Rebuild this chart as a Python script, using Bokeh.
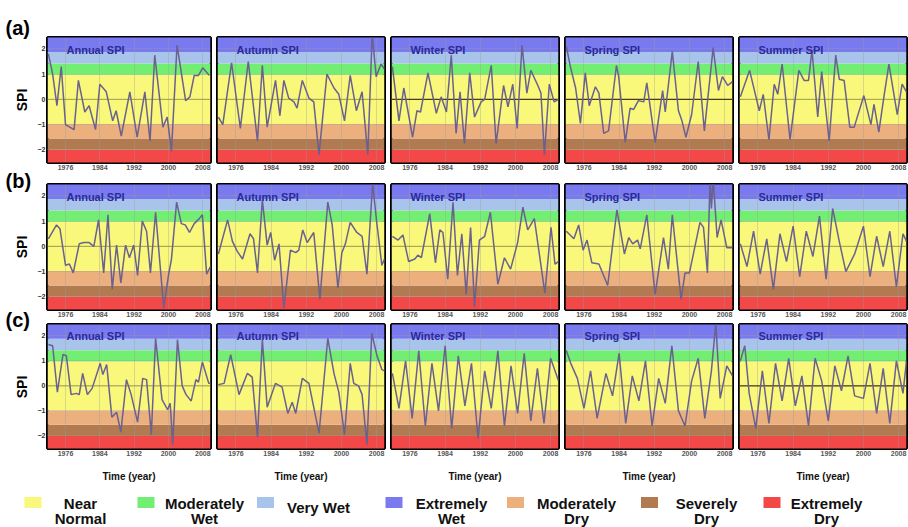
import math
from bokeh.plotting import figure
from bokeh.layouts import row, column
from bokeh.models import BoxAnnotation, Label, Span, FixedTicker
from bokeh.embed import file_html
from bokeh.resources import INLINE

# ---------------- data ----------------
seasons = ["Annual SPI", "Autumn SPI", "Winter SPI", "Spring SPI", "Summer SPI"]
row_tags = ["(a)", "(b)", "(c)"]
year_ticks = [1976, 1984, 1992, 2000, 2008]
spi_ticks = [-2, -1, 0, 1, 2]

band_names = ["Extremely Dry", "Severely Dry", "Moderately Dry", "Near Normal",
              "Moderately Wet", "Very Wet", "Extremely Wet"]
band_bottom = [-5.0, -2.0, -1.55, -0.98, 0.97, 1.42, 1.88]
band_top = [-2.0, -1.55, -0.98, 0.97, 1.42, 1.88, 5.0]
band_colors = ["#f24848", "#b27a50", "#ebb07e", "#f9f87a", "#72ee72", "#a9c4ea", "#7a7af0"]

legend_order = ["Near Normal", "Moderately Wet", "Very Wet", "Extremely Wet",
                "Moderately Dry", "Severely Dry", "Extremely Dry"]
legend_lines = [["Near", "Normal"], ["Moderately", "Wet"], ["Very Wet"], ["Extremely", "Wet"],
                ["Moderately", "Dry"], ["Severely", "Dry"], ["Extremely", "Dry"]]

# (year, SPI)
a_annual = [(1972.0, 1.8), (1973.0, 1.0), (1974.0, -0.25), (1975.0, 1.3), (1976.0, -1.0), (1978.0, -1.2),
            (1979.0, 0.75), (1980.5, -0.5), (1981.5, -0.25), (1983.0, -1.2), (1984.0, 0.6), (1985.5, 0.3),
            (1987.0, -0.85), (1987.8, -0.45), (1989.0, -1.45), (1991.0, 0.3), (1992.7, -1.5), (1994.5, 0.3),
            (1995.7, -1.65), (1996.8, 1.75), (1998.7, -1.1), (1999.7, -0.7), (2000.7, -2.05), (2002.0, 2.15),
            (2004.0, -0.05), (2005.0, 0.1), (2006.0, 0.95), (2007.0, 0.95), (2008.0, 1.25), (2009.5, 0.95)]
a_autumn = [(1972.0, -0.7), (1973.0, -1.0), (1975.0, 1.45), (1977.0, -1.15), (1978.8, 1.5), (1980.9, -1.65),
            (1982.0, 1.35), (1983.1, -1.1), (1985.0, 0.75), (1986.0, -0.65), (1986.9, 0.75), (1988.0, 0.05),
            (1989.2, -0.1), (1989.9, -0.35), (1991.1, 0.75), (1992.6, 0.05), (1993.7, -0.1), (1994.9, -2.2),
            (1996.7, 1.0), (1998.3, 0.45), (1999.4, 0.2), (2000.7, -0.85), (2002.0, 0.95), (2003.4, -0.45),
            (2004.7, 0.3), (2006.0, -2.2), (2007.0, 2.6), (2007.9, 0.9), (2009.0, 1.4), (2009.8, 1.2)]
a_winter = [(1972.0, 1.3), (1973.5, -0.85), (1974.6, 0.45), (1976.6, -1.5), (1977.6, -0.45), (1978.4, -0.5),
            (1980.1, 1.05), (1982.0, -0.55), (1983.1, 0.1), (1984.3, -0.5), (1985.4, 1.75), (1986.5, -1.35),
            (1987.4, 0.3), (1988.4, -1.75), (1989.6, 1.05), (1990.7, -0.7), (1992.2, -0.1), (1993.0, 0.0),
            (1994.5, 1.35), (1995.6, -1.75), (1997.3, 0.55), (1998.3, -0.3), (1999.4, 0.6), (2000.4, -1.15),
            (2001.5, 2.15), (2002.6, 0.25), (2003.5, 1.15), (2005.1, 0.55), (2005.8, 0.25), (2006.6, -2.2),
            (2007.7, 0.6), (2008.8, -0.1), (2009.8, 0.0)]
a_spring = [(1972.0, 2.1), (1972.9, 1.3), (1974.1, 0.45), (1975.2, -0.95), (1976.3, 1.05), (1977.2, -0.25),
            (1978.6, 0.5), (1979.4, 0.25), (1980.5, -1.35), (1981.6, -1.25), (1983.4, 1.35), (1983.9, 0.9),
            (1985.4, -1.7), (1986.5, -0.35), (1987.3, -0.4), (1988.4, -0.05), (1989.6, -0.1), (1990.3, 0.65),
            (1992.2, -1.7), (1993.9, 0.35), (1994.5, -0.5), (1996.1, 1.9), (1997.5, -0.45), (1998.3, -0.85),
            (1999.2, -1.5), (2000.5, -0.6), (2002.0, 1.5), (2003.4, -1.25), (2005.4, 2.05), (2006.6, 0.35),
            (2007.5, 0.9), (2008.7, 0.55), (2009.8, 0.7)]
a_summer = [(1972.0, 0.1), (1974.1, 1.15), (1976.3, -0.45), (1977.2, 0.2), (1978.5, -1.6), (1979.7, 0.6),
            (1980.5, 0.2), (1981.5, 1.4), (1983.3, -1.6), (1985.3, 1.15), (1986.5, 0.75), (1987.5, 0.75),
            (1988.3, 1.95), (1989.6, -0.7), (1990.5, 1.1), (1992.2, -1.65), (1993.7, 1.75), (1994.5, 0.8),
            (1995.6, 0.75), (1996.9, -1.1), (1997.9, -1.1), (2000.1, 0.15), (2001.7, -1.0), (2002.4, -0.2),
            (2003.5, -1.3), (2004.7, 0.15), (2005.8, 1.4), (2007.7, -0.6), (2008.8, 0.6), (2009.8, 0.3)]

b_annual = [(1972.0, 0.3), (1973.9, 0.85), (1974.7, 0.7), (1976.0, -0.75), (1976.9, -0.7), (1977.8, -1.05),
            (1979.2, 0.1), (1980.3, 0.15), (1981.5, 0.15), (1982.6, 0.0), (1983.7, 1.05), (1984.9, -1.05),
            (1985.9, 1.25), (1986.9, -1.7), (1987.9, 0.05), (1988.9, -1.45), (1990.0, 0.05), (1990.9, -0.45),
            (1991.9, 0.05), (1992.8, -1.15), (1993.9, 1.0), (1994.9, 0.6), (1995.8, -1.05), (1997.0, 1.35),
            (1998.9, -2.45), (2000.0, -1.15), (2000.7, -0.5), (2001.9, 1.75), (2003.0, 0.9), (2003.9, 0.85),
            (2004.9, 0.55), (2006.0, 0.9), (2007.2, 1.1), (2007.9, 1.25), (2008.9, -1.1), (2009.8, -0.8)]
b_autumn = [(1972.0, -0.3), (1974.1, 1.05), (1975.2, 0.2), (1976.3, -0.2), (1977.5, -0.5), (1979.2, 0.5),
            (1980.0, 0.3), (1980.9, -1.05), (1982.0, 1.85), (1983.1, 0.05), (1983.9, 0.55), (1984.8, -0.55),
            (1985.8, 0.1), (1986.9, -2.45), (1988.4, -0.15), (1989.6, -0.25), (1990.3, -0.15), (1991.2, 0.65),
            (1992.2, 0.15), (1993.7, 0.55), (1995.1, -2.1), (1996.9, 1.75), (1997.9, 0.85), (1999.2, -1.65),
            (2000.1, -0.25), (2000.9, 0.1), (2002.0, 0.95), (2003.5, 0.55), (2004.7, 0.4), (2005.8, -1.1),
            (2007.1, 2.5), (2008.0, 1.0), (2009.2, -0.75), (2009.8, -0.5)]
b_winter = [(1972.0, 0.4), (1973.3, 0.25), (1974.4, 0.45), (1975.7, -0.6), (1977.1, -0.5), (1977.8, -0.35),
            (1978.6, -0.45), (1980.5, 1.3), (1981.8, -0.65), (1982.8, 0.65), (1983.5, 0.55), (1984.6, -1.3),
            (1985.8, 1.75), (1986.8, -1.15), (1987.8, 0.5), (1988.8, -1.9), (1989.8, 0.75), (1990.7, -2.4),
            (1991.8, 0.25), (1993.0, 0.4), (1994.3, 1.35), (1996.0, -1.5), (1997.5, -0.45), (1998.9, -0.9),
            (2000.5, 0.15), (2001.7, 1.55), (2002.8, 0.65), (2004.3, 1.1), (2006.7, -1.85), (2008.1, 0.75),
            (2009.0, -0.7), (2009.8, -0.6)]
b_spring = [(1972.0, 0.6), (1973.7, 0.3), (1974.8, 0.85), (1975.8, -0.15), (1976.7, 0.25), (1977.8, -0.65),
            (1979.4, -0.7), (1981.4, -1.55), (1983.5, 1.45), (1985.2, -0.3), (1986.2, 0.35), (1987.1, 0.1),
            (1988.2, 0.25), (1988.8, -0.1), (1990.3, 1.25), (1992.2, -1.9), (1994.1, 0.35), (1995.2, -0.9),
            (1996.1, 1.25), (1998.1, -2.1), (1999.0, -1.05), (2000.0, -1.05), (2002.4, 0.95), (2003.2, 0.75),
            (2004.1, -1.05), (2004.7, 2.7), (2005.0, 1.5), (2005.4, 2.7), (2006.3, 0.35), (2007.2, 1.05),
            (2008.5, -0.05), (2009.8, -0.05)]
b_summer = [(1972.0, 0.1), (1973.5, -0.8), (1975.0, 0.6), (1976.5, -1.1), (1978.0, 0.3), (1979.5, -1.7),
            (1981.0, 0.5), (1982.5, -0.6), (1984.0, 0.8), (1985.5, -1.2), (1987.0, 0.6), (1988.5, -0.4),
            (1990.0, 1.2), (1991.5, -1.3), (1993.0, 1.5), (1994.5, 0.2), (1996.0, -1.0), (1998.0, -0.3),
            (2000.0, 0.8), (2001.5, -1.2), (2003.0, 0.4), (2004.5, -0.8), (2006.0, 0.6), (2007.5, -1.6),
            (2009.0, 0.5), (2009.8, 0.2)]

c_annual = [(1972.0, 1.65), (1973.0, 1.6), (1974.1, -0.25), (1975.4, 1.25), (1976.2, 1.2), (1977.3, -0.35),
            (1978.5, -0.3), (1979.2, -0.35), (1980.0, 0.5), (1981.1, -0.35), (1982.2, -0.1), (1984.1, 0.9),
            (1984.7, 0.45), (1985.6, 0.85), (1986.8, -1.25), (1987.9, -1.05), (1988.9, -1.85), (1990.2, 0.25),
            (1991.3, -0.35), (1992.8, -1.45), (1994.0, 0.3), (1994.9, 0.25), (1996.0, -1.95), (1997.0, 1.9),
            (1998.5, -0.55), (1999.8, -0.95), (2000.4, -0.7), (2001.0, -2.35), (2002.1, 1.85), (2003.2, 0.0),
            (2004.1, -0.35), (2005.3, -0.6), (2006.4, 0.25), (2007.0, 0.15), (2007.9, 0.95), (2009.4, 0.1),
            (2009.8, 0.1)]
c_autumn = [(1972.0, 0.05), (1973.3, 0.1), (1974.8, 1.25), (1976.7, -0.35), (1978.6, 0.5), (1979.7, 0.35),
            (1980.9, -2.05), (1982.0, 1.85), (1983.1, -0.85), (1985.0, 0.1), (1986.5, -0.05), (1987.8, -1.1),
            (1988.8, -0.65), (1989.6, -1.1), (1991.1, 0.3), (1992.6, 0.1), (1994.9, -1.9), (1996.9, 1.9),
            (1998.3, 0.5), (1999.4, -0.25), (2000.7, -1.95), (2002.0, 0.9), (2002.8, 0.1), (2003.9, 0.0),
            (2004.7, -0.35), (2005.8, -2.35), (2006.9, 2.1), (2008.1, 1.2), (2009.2, 0.65), (2009.8, 0.6)]
c_winter = [(1972.0, 0.5), (1973.5, -0.9), (1975.0, 1.0), (1976.5, -1.3), (1978.0, 1.4), (1979.5, -1.6),
            (1981.0, 0.9), (1982.5, -1.0), (1984.0, 1.6), (1985.5, -1.7), (1987.0, 1.2), (1988.5, -0.8),
            (1990.0, 0.9), (1991.5, -2.1), (1993.0, 0.6), (1994.5, -0.9), (1996.0, 1.4), (1997.5, -1.6),
            (1999.0, 0.8), (2000.5, -1.1), (2002.0, 1.3), (2003.5, -1.4), (2005.0, 0.7), (2006.5, -1.5),
            (2008.0, 1.1), (2009.8, 0.2)]
c_spring = [(1972.0, 1.4), (1973.0, 0.9), (1974.5, 0.3), (1976.0, -0.9), (1977.5, 0.6), (1979.0, -1.3),
            (1981.0, 0.5), (1982.5, -0.4), (1984.0, 1.3), (1985.5, -1.5), (1987.0, 0.4), (1988.5, -0.6),
            (1990.0, 1.0), (1991.5, -1.6), (1993.0, 0.3), (1994.5, -0.7), (1996.0, 1.6), (1997.5, -1.0),
            (1999.0, -1.6), (2000.5, 0.2), (2002.0, 1.1), (2003.5, -1.3), (2005.0, 0.6), (2006.0, 2.5),
            (2007.0, -0.5), (2008.5, 0.8), (2009.8, 0.4)]
c_summer = [(1972.0, 1.0), (1973.0, 1.6), (1974.0, -0.3), (1975.5, -1.7), (1977.0, 0.6), (1978.5, -1.5),
            (1980.0, 0.9), (1981.5, -0.6), (1983.0, 1.1), (1984.5, -0.8), (1986.0, 0.4), (1987.5, -1.6),
            (1989.0, 1.1), (1990.5, 0.2), (1992.0, -1.4), (1993.5, 0.8), (1995.0, -0.2), (1996.5, 1.2),
            (1998.0, -0.4), (2000.0, -0.5), (2001.5, 0.9), (2003.0, -1.1), (2004.5, 0.7), (2006.0, -1.5),
            (2007.5, 1.0), (2009.0, -0.3), (2009.8, 1.0)]

grid_series = [[a_annual, a_autumn, a_winter, a_spring, a_summer],
               [b_annual, b_autumn, b_winter, b_spring, b_summer],
               [c_annual, c_autumn, c_winter, c_spring, c_summer]]
dark_zero = {(0, 2), (0, 3), (2, 4)}

# ---------------- layout constants (page has no margin in practice) ----------------
FONT = "Liberation Sans"
FW, FH = 167, 125
TOPS = [37, 10, 3]
BOTTOMS = [12, 12, 35]
LABEL_W = 34
X_RANGE = (1971.8, 2009.8)
Y_RANGE = (-2.5, 2.45)


def make_panel(series, title, ci, ri):
    left = 9 if ci == 0 else 5
    right = 2
    top, bottom = TOPS[ri], BOTTOMS[ri]
    p = figure(width=left + FW + right, height=top + FH + bottom,
               x_range=X_RANGE, y_range=Y_RANGE,
               min_border_left=left, min_border_right=right,
               min_border_top=top, min_border_bottom=bottom,
               y_axis_location="left" if ci == 0 else None,
               toolbar_location=None, output_backend="svg")
    for b0, b1, col in zip(band_bottom, band_top, band_colors):
        p.add_layout(BoxAnnotation(bottom=b0, top=b1, fill_color=col, fill_alpha=1.0,
                                   line_color=None, level="image"))
    p.xgrid.ticker = FixedTicker(ticks=year_ticks)
    p.ygrid.ticker = FixedTicker(ticks=spi_ticks)
    p.grid.grid_line_color = "#9a9a9a"
    p.grid.grid_line_alpha = 0.35
    p.grid.grid_line_width = 1

    dark = (ri, ci) in dark_zero
    p.add_layout(Span(location=0, dimension="width",
                      line_color="#3a2a10" if dark else "#8c8a3a",
                      line_width=1.2, line_alpha=0.9 if dark else 0.6, level="underlay"))

    xs = [v[0] for v in series]
    ys = [v[1] for v in series]
    p.line(xs, ys, line_color="#6a6190", line_width=1.5)

    xa = p.xaxis[0]
    xa.ticker = FixedTicker(ticks=year_ticks)
    xa.major_label_text_font = FONT
    xa.major_label_text_font_size = "7px"
    xa.major_label_text_font_style = "bold"
    xa.major_label_text_color = "#555555"
    xa.major_tick_out = 0
    xa.major_tick_in = 0
    xa.minor_tick_out = 0
    xa.minor_tick_in = 0
    xa.axis_line_color = None
    xa.major_label_standoff = 2
    if ri == 2:
        xa.axis_label = "Time (year)"
        xa.axis_label_text_font = FONT
        xa.axis_label_text_font_size = "10px"
        xa.axis_label_text_font_style = "bold"
        xa.axis_label_text_color = "#111111"
        xa.axis_label_standoff = 12
    if ci == 0:
        ya = p.yaxis[0]
        ya.ticker = FixedTicker(ticks=spi_ticks)
        ya.major_label_text_font = FONT
        ya.major_label_text_font_size = "7px"
        ya.major_label_text_font_style = "bold"
        ya.major_label_text_color = "#333333"
        ya.major_tick_out = 0
        ya.major_tick_in = 0
        ya.minor_tick_out = 0
        ya.minor_tick_in = 0
        ya.axis_line_color = None
        ya.major_label_standoff = 2

    p.outline_line_color = "black"
    p.outline_line_width = 3
    p.outline_line_alpha = 1.0
    p.border_fill_color = "white"

    p.add_layout(Label(x=19, y=FH - 6, x_units="screen", y_units="screen", text=title,
                       text_baseline="top", text_align="left", text_font=FONT,
                       text_font_size="11px", text_font_style="bold", text_color="#2a2a9c"))
    return p


rows = []
for ri in range(3):
    rows.append(row(*[make_panel(grid_series[ri][ci], seasons[ci], ci, ri) for ci in range(5)]))
panels = column(*rows)

row_heights = [TOPS[i] + FH + BOTTOMS[i] for i in range(3)]
total_h = sum(row_heights)

# left strip with the row tags and SPI axis titles
lab = figure(width=LABEL_W, height=total_h, x_range=(0, 1), y_range=(0, 1),
             x_axis_location=None, y_axis_location=None, min_border=0,
             toolbar_location=None, output_backend="svg")
lab.grid.visible = False
lab.outline_line_color = None
tag_page_y = [27, 180, 319]          # vertical centre of each tag on the page
spi_y = []
acc = 0
for i in range(3):
    spi_y.append(total_h - (acc + TOPS[i] + FH / 2))
    acc += row_heights[i]
for t, ty, sy in zip(row_tags, tag_page_y, spi_y):
    lab.add_layout(Label(x=5, y=total_h - ty, x_units="screen", y_units="screen", text=t,
                         text_baseline="middle", text_align="left", text_font=FONT,
                         text_font_size="20px", text_font_style="bold", text_color="black"))
    lab.add_layout(Label(x=21, y=sy, x_units="screen", y_units="screen", text="SPI",
                         angle=math.pi / 2, text_baseline="middle", text_align="center",
                         text_font=FONT, text_font_size="14px", text_font_style="bold",
                         text_color="black"))

# legend strip
LEG_W = 908
LEG_H = 527 - total_h
leg = figure(width=LEG_W, height=LEG_H, x_range=(0, LEG_W), y_range=(0, LEG_H),
             x_axis_location=None, y_axis_location=None, min_border=0,
             toolbar_location=None, output_backend="svg")
leg.grid.visible = False
leg.outline_line_color = None
sw_x = [32.5, 145.5, 265, 393.5, 515, 649, 771.5]
tx_x = [80, 204, 318, 451, 576, 706, 826]
color_of = dict(zip(band_names, band_colors))
leg.rect(x=sw_x, y=[25] * len(sw_x), width=17, height=11,
         fill_color=[color_of[n] for n in legend_order], line_color=None)
for lines, tx in zip(legend_lines, tx_x):
    ys = [24, 9] if len(lines) == 2 else [20]
    for txt, yy in zip(lines, ys):
        leg.add_layout(Label(x=tx, y=yy, x_units="screen", y_units="screen", text=txt,
                             text_baseline="alphabetic", text_align="center", text_font=FONT,
                             text_font_size="15px", text_font_style="bold", text_color="#111111"))

page = column(row(lab, panels), leg)
open("out.html", "w").write(file_html(page, INLINE))
